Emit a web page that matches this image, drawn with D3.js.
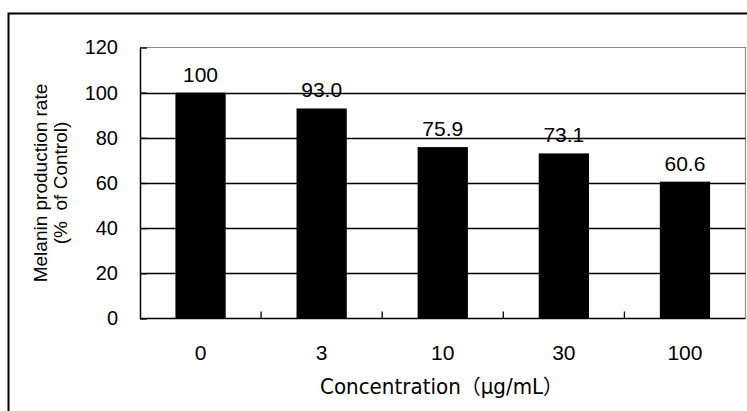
<!doctype html>
<html lang="en">
<head>
  <meta charset="utf-8">
  <title>Melanin production rate</title>
  <style>
    body { margin: 0; background: #fff; }
    svg { display: block; }
    text { fill: #000; }
  </style>
</head>
<body>
  <div id="chart"></div>

  <script src="https://cdnjs.cloudflare.com/ajax/libs/d3/7.8.5/d3.min.js" charset="utf-8"></script>
  <script>
    // data
    var concentrations = ["0", "3", "10", "30", "100"];
    var melaninRate = [100, 93.0, 75.9, 73.1, 60.6];
    var valueLabels = ["100", "93.0", "75.9", "73.1", "60.6"];
    var yTicks = [0, 20, 40, 60, 80, 100, 120];

    var width = 747, height = 411;
    var plot = { left: 140, right: 745.5, top: 47.5, bottom: 318.5 };

    var svg = d3.select("#chart").append("svg")
      .attr("width", width)
      .attr("height", height);

    // outer frame (runs off the right and bottom of the crop)
    svg.append("path")
      .attr("d", "M8.5," + (height + 5) + "V13.5H" + (width + 5))
      .attr("fill", "none")
      .attr("stroke", "#000")
      .attr("stroke-width", 2);

    var x = d3.scaleBand()
      .domain(concentrations)
      .range([plot.left, plot.right])
      .paddingInner(0.585)
      .paddingOuter(0.2925);

    var y = d3.scaleLinear()
      .domain([0, 120])
      .range([plot.bottom, plot.top]);

    // plot area border (grey top/right)
    svg.append("path")
      .attr("d", "M" + plot.left + "," + plot.top + "H" + plot.right + "V" + plot.bottom)
      .attr("fill", "none")
      .attr("stroke", "#8c8c8c")
      .attr("stroke-width", 1.2);

    // gridlines
    svg.append("g")
      .selectAll("line")
      .data(yTicks.filter(function(d) { return d > 0 && d < 120; }))
      .enter()
      .append("line")
      .attr("x1", plot.left)
      .attr("x2", plot.right)
      .attr("y1", function(d) { return Math.round(y(d)) + 0.5; })
      .attr("y2", function(d) { return Math.round(y(d)) + 0.5; })
      .attr("stroke", "#000")
      .attr("stroke-width", 1.3);

    // bars
    svg.append("g")
      .selectAll("rect")
      .data(melaninRate)
      .enter()
      .append("rect")
      .attr("x", function(d, i) { return x(concentrations[i]); })
      .attr("width", x.bandwidth())
      .attr("y", function(d) { return y(d); })
      .attr("height", function(d) { return y(0) - y(d); })
      .attr("fill", "#000");

    // value labels above bars
    svg.append("g")
      .selectAll("text")
      .data(melaninRate)
      .enter()
      .append("text")
      .attr("x", function(d, i) { return x(concentrations[i]) + x.bandwidth() / 2; })
      .attr("y", function(d) { return y(d) - 11; })
      .attr("text-anchor", "middle")
      .style("font-family", "'Liberation Sans', Arial, sans-serif")
      .style("font-size", "21px")
      .text(function(d, i) { return valueLabels[i]; });

    // y axis: inside ticks, labels on the left
    var yAxis = d3.axisLeft(y)
      .tickValues(yTicks)
      .tickSizeInner(-7)
      .tickSizeOuter(0)
      .tickPadding(22);

    var gy = svg.append("g")
      .attr("transform", "translate(" + plot.left + ",0)")
      .call(yAxis);
    gy.select(".domain").attr("stroke", "#000").attr("stroke-width", 1.5);
    gy.selectAll(".tick line").attr("stroke", "#000").attr("stroke-width", 1.3);
    gy.selectAll(".tick text")
      .attr("fill", "#000")
      .style("font-family", "'Liberation Sans', Arial, sans-serif")
      .style("font-size", "20px");

    // x axis: category boundary ticks pointing up
    var xBounds = d3.scaleLinear()
      .domain([0, concentrations.length])
      .range([plot.left, plot.right]);

    var gx = svg.append("g")
      .attr("transform", "translate(0," + plot.bottom + ")");
    gx.append("line")
      .attr("x1", plot.left)
      .attr("x2", plot.right)
      .attr("stroke", "#000")
      .attr("stroke-width", 1.5);
    gx.selectAll("line.tick")
      .data(d3.range(1, concentrations.length))
      .enter()
      .append("line")
      .attr("class", "tick")
      .attr("x1", function(d) { return xBounds(d); })
      .attr("x2", function(d) { return xBounds(d); })
      .attr("y1", 0)
      .attr("y2", -7)
      .attr("stroke", "#000")
      .attr("stroke-width", 1.3);
    gx.selectAll("text")
      .data(concentrations)
      .enter()
      .append("text")
      .attr("x", function(d) { return x(d) + x.bandwidth() / 2; })
      .attr("y", 41)
      .attr("text-anchor", "middle")
      .style("font-family", "'Liberation Sans', Arial, sans-serif")
      .style("font-size", "21px")
      .text(function(d) { return d; });

    // axis titles
    svg.append("text")
      .attr("x", 320)
      .attr("y", 394)
      .attr("textLength", 243)
      .attr("lengthAdjust", "spacingAndGlyphs")
      .style("font-family", "'DejaVu Sans', 'Noto Sans CJK JP', sans-serif")
      .style("font-size", "20.5px")
      .text("Concentration（μg/mL）");

    var yTitle = svg.append("g")
      .attr("transform", "translate(0," + (plot.top + plot.bottom) / 2 + ")");
    yTitle.append("text")
      .attr("transform", "translate(47,0) rotate(-90)")
      .attr("text-anchor", "middle")
      .style("font-family", "'Liberation Sans', Arial, sans-serif")
      .style("font-size", "19px")
      .text("Melanin production rate");
    yTitle.append("text")
      .attr("transform", "translate(67,0) rotate(-90)")
      .attr("text-anchor", "middle")
      .style("font-family", "'Liberation Sans', Arial, sans-serif")
      .style("font-size", "19px")
      .style("white-space", "pre")
      .text("(%  of Control)");
  </script>
</body>
</html>
